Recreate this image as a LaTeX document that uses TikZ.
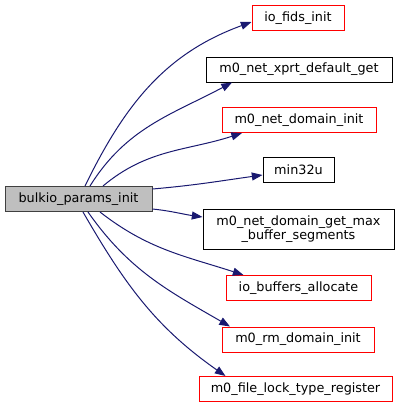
\documentclass[tikz,border=0pt]{standalone}
\usepackage{fontspec}
\setmainfont{DejaVu Sans}
\usepackage{tikz}
\usetikzlibrary{positioning,arrows.meta,calc}
\definecolor{cgink}{HTML}{191970}
\definecolor{cgsrc}{HTML}{BFBFBF}
\definecolor{cgred}{HTML}{FF0000}
\tikzset{
  fn/.style     ={draw=black, line width=0.75pt, fill=white, inner sep=0pt,
                  minimum height=18.75pt, align=center, font=\fontsize{9.6}{11}\selectfont},
  fnsrc/.style  ={fn, draw=black!75, fill=cgsrc},
  fnext/.style  ={fn, draw=cgred},
  call/.style   ={-{Triangle[length=8pt,width=6pt]}, line width=0.75pt, draw=cgink},
}

\begin{document}
\begin{tikzpicture}[x=0.75pt, y=-0.75pt]
  \useasboundingbox (0,0) rectangle (403,408);
  \node[fnsrc, minimum width=110.25pt] (init) at (78.5,199) {bulkio\_params\_init};
  \node[fnext, minimum width=69pt]     (fids) at (298,18) {io\_fids\_init};
  \node[fn, minimum width=139.5pt]     (xprt) at (299,69.5) {m0\_net\_xprt\_default\_get};
  \node[fnext, minimum width=115.5pt]  (dom) at (299,120) {m0\_net\_domain\_init};
  \node[fn, minimum width=53.25pt]     (min) at (298.5,170) {min32u};
  \node[fn, minimum width=143.25pt, minimum height=30pt] (segs) at (298.5,229)
        {m0\_net\_domain\_get\_max\\\_buffer\_segments};
  \node[fnext, minimum width=108.75pt] (bufs) at (298.5,288) {io\_buffers\_allocate};
  \node[fnext, minimum width=114pt]    (rm) at (298,339.5) {m0\_rm\_domain\_init};
  \node[fnext, minimum width=144.75pt] (flock) at (295.5,389) {m0\_file\_lock\_type\_register};
  % calls, top to bottom
  \draw[call] ($(init.north)+(6.5,0)$)  to[out=64, in=200] ($(fids.west)+(0,4)$);
  \draw[call] ($(init.north)+(11.5,0)$) to[out=58, in=208] ($(xprt.south)+(-67,0)$);
  \draw[call] ($(init.north)+(24.5,0)$) to[out=40, in=198] ($(dom.south)+(-57,0)$);
  \draw[call] ($(init.east)+(0,-10)$)   to[out=5, in=188]   ($(min.west)+(0,5)$);
  \draw[call] ($(init.east)+(0,10)$)    to[out=-6, in=172]  ($(segs.west)+(0,-12)$);
  \draw[call] ($(init.south)+(21.5,0)$) to[out=-38, in=162] ($(bufs.north)+(-55,0)$);
  \draw[call] ($(init.south)+(9.5,0)$)  to[out=-55, in=150] ($(rm.north)+(-68,0)$);
  \draw[call] ($(init.south)+(4.5,0)$)  to[out=-60, in=145] ($(flock.north)+(-70,0)$);
\end{tikzpicture}
\end{document}
